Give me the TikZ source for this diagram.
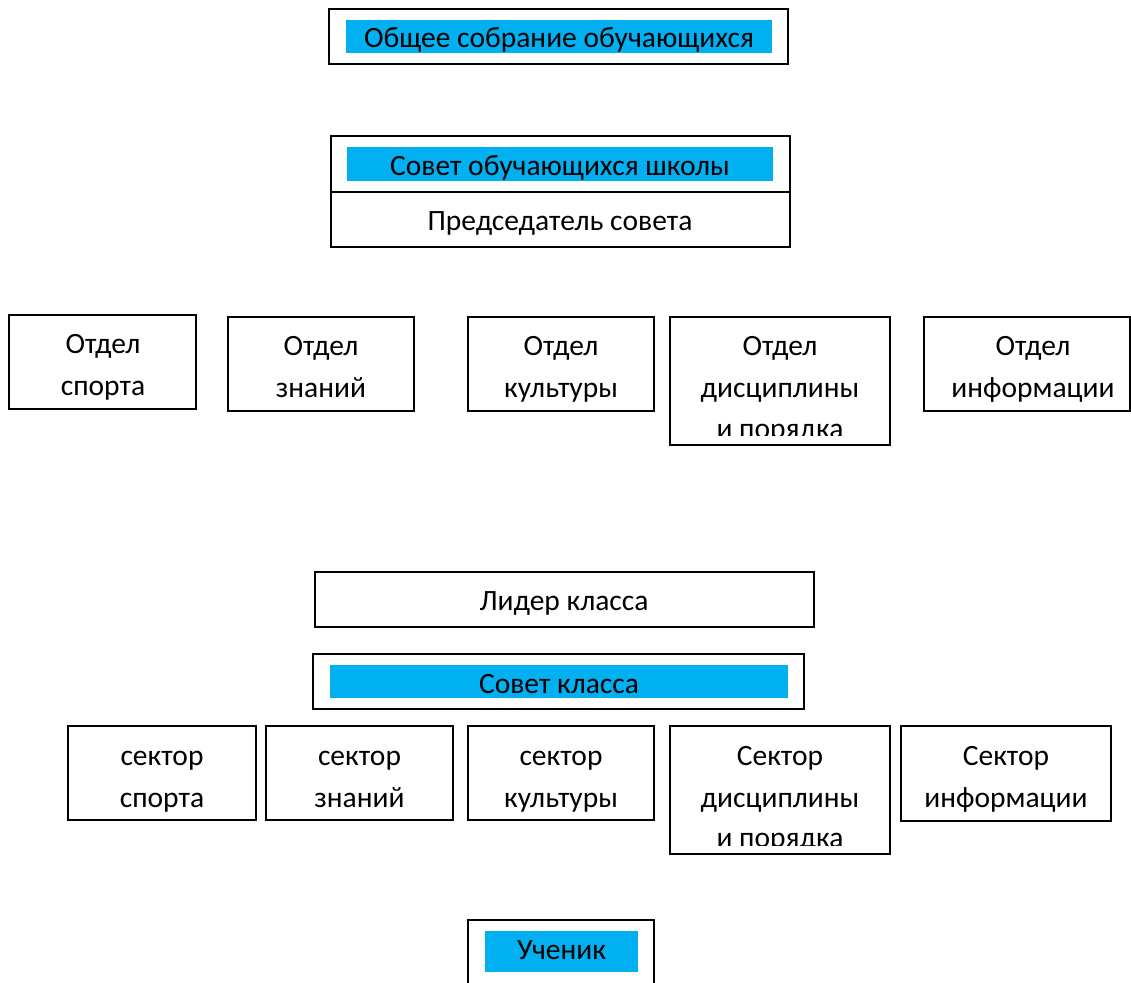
\documentclass[tikz,border=0pt]{standalone}
\usepackage{fontspec}
\setmainfont{Carlito}
\definecolor{hl}{HTML}{00B0F0}
\begin{document}
\begin{tikzpicture}[x=1pt,y=-1pt,
  frame/.style={draw=black, line width=2pt, fill=white, inner sep=0pt, outer sep=0pt},
  band/.style={fill=hl, draw=none, inner sep=0pt, outer sep=0pt},
  txt/.style={anchor=base, inner sep=0pt, font=\fontsize{29.5}{42}\selectfont}]
\clip (0,0) rectangle (1131,982);
\fill[white] (0,0) rectangle (1131,982);
% General meeting
\node[frame, minimum width=459pt, minimum height=55pt] (gm) at (558.5,36.5) {};
\node[band, minimum width=426pt, minimum height=33pt] (gmb) at (559,36.5) {};
\node[txt] (gmt) at (559,48) {Общее собрание обучающихся};
% School council
\node[frame, minimum width=459pt, minimum height=56pt] (sc) at (560.5,164) {};
\node[frame, minimum width=459pt, minimum height=55pt] (ch) at (560.5,219.5) {};
\node[band, minimum width=426pt, minimum height=34pt] (scb) at (560,164) {};
\node[txt] (sct) at (560,175) {Совет обучающихся школы};
\node[txt] (cht) at (560,230) {Председатель совета};
% Departments
\node[frame, minimum width=187pt, minimum height=94pt] (d1) at (102.5,362) {};
\node[txt] (d1a) at (103,353) {Отдел};
\node[txt] (d1b) at (103,395) {спорта};
\node[frame, minimum width=186pt, minimum height=94pt] (d2) at (321,364) {};
\node[txt] (d2a) at (321,355) {Отдел};
\node[txt] (d2b) at (321,397) {знаний};
\node[frame, minimum width=186pt, minimum height=94pt] (d3) at (561,364) {};
\node[txt] (d3a) at (561,355) {Отдел};
\node[txt] (d3b) at (561,397) {культуры};
\node[frame, minimum width=220pt, minimum height=128pt] (d4) at (780,380.5) {};
\node[txt] (d4a) at (780,355) {Отдел};
\node[txt] (d4b) at (780,397) {дисциплины};
\begin{scope}
\clip (672,320) rectangle (888,435);
\node[txt] (d4c) at (780,438) {и порядка};
\end{scope}
\node[frame, minimum width=206pt, minimum height=94pt] (d5) at (1027,364) {};
\node[txt] (d5a) at (1033,355) {Отдел};
\node[txt] (d5b) at (1033,397) {информации};
% Class leader and council
\node[frame, minimum width=499pt, minimum height=55pt] (cl) at (564.5,599.5) {};
\node[txt] (clt) at (564,610) {Лидер класса};
\node[frame, minimum width=491pt, minimum height=55pt] (cc) at (558.5,681.5) {};
\node[band, minimum width=458pt, minimum height=33pt] (ccb) at (559,681.5) {};
\node[txt] (cct) at (559,693) {Совет класса};
% Sectors
\node[frame, minimum width=188pt, minimum height=94pt] (s1) at (162,773) {};
\node[txt] (s1a) at (162,765) {сектор};
\node[txt] (s1b) at (162,807) {спорта};
\node[frame, minimum width=187pt, minimum height=94pt] (s2) at (359.5,773) {};
\node[txt] (s2a) at (359.5,765) {сектор};
\node[txt] (s2b) at (359.5,807) {знаний};
\node[frame, minimum width=186pt, minimum height=94pt] (s3) at (561,773) {};
\node[txt] (s3a) at (561,765) {сектор};
\node[txt] (s3b) at (561,807) {культуры};
\node[frame, minimum width=220pt, minimum height=128pt] (s4) at (780,790) {};
\node[txt] (s4a) at (780,765) {Сектор};
\node[txt] (s4b) at (780,807) {дисциплины};
\begin{scope}
\clip (672,729) rectangle (888,845);
\node[txt] (s4c) at (780,847) {и порядка};
\end{scope}
\node[frame, minimum width=210pt, minimum height=95pt] (s5) at (1006,773.5) {};
\node[txt] (s5a) at (1006,765) {Сектор};
\node[txt] (s5b) at (1006,807) {информации};
% Pupil
\node[frame, minimum width=186pt, minimum height=80pt] (pu) at (561,960) {};
\node[band, minimum width=153pt, minimum height=41pt] (pub) at (561.5,951.5) {};
\node[txt] (put) at (561.5,959) {Ученик};
\end{tikzpicture}
\end{document}
